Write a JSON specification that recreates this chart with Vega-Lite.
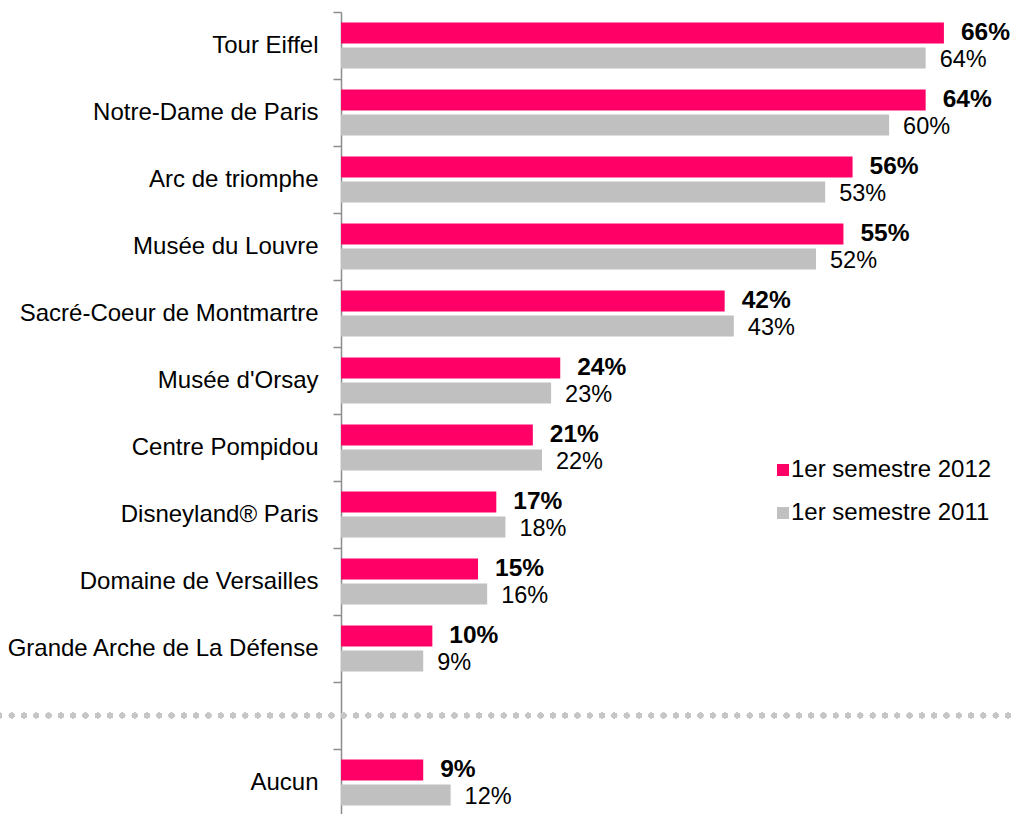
{
  "$schema": "https://vega.github.io/schema/vega-lite/v6.json",
  "autosize": "none",
  "padding": {"left": 341, "top": 12, "right": 0, "bottom": 0},
  "width": 676,
  "height": 804,
  "config": {
    "view": {"stroke": null},
    "font": "Liberation Sans"
  },
  "data": {
    "values": [
      {"cat": "Tour Eiffel", "serie": "1er semestre 2012", "v": 0.66},
      {"cat": "Tour Eiffel", "serie": "1er semestre 2011", "v": 0.64},
      {"cat": "Notre-Dame de Paris", "serie": "1er semestre 2012", "v": 0.64},
      {"cat": "Notre-Dame de Paris", "serie": "1er semestre 2011", "v": 0.60},
      {"cat": "Arc de triomphe", "serie": "1er semestre 2012", "v": 0.56},
      {"cat": "Arc de triomphe", "serie": "1er semestre 2011", "v": 0.53},
      {"cat": "Musée du Louvre", "serie": "1er semestre 2012", "v": 0.55},
      {"cat": "Musée du Louvre", "serie": "1er semestre 2011", "v": 0.52},
      {"cat": "Sacré-Coeur de Montmartre", "serie": "1er semestre 2012", "v": 0.42},
      {"cat": "Sacré-Coeur de Montmartre", "serie": "1er semestre 2011", "v": 0.43},
      {"cat": "Musée d'Orsay", "serie": "1er semestre 2012", "v": 0.24},
      {"cat": "Musée d'Orsay", "serie": "1er semestre 2011", "v": 0.23},
      {"cat": "Centre Pompidou", "serie": "1er semestre 2012", "v": 0.21},
      {"cat": "Centre Pompidou", "serie": "1er semestre 2011", "v": 0.22},
      {"cat": "Disneyland® Paris", "serie": "1er semestre 2012", "v": 0.17},
      {"cat": "Disneyland® Paris", "serie": "1er semestre 2011", "v": 0.18},
      {"cat": "Domaine de Versailles", "serie": "1er semestre 2012", "v": 0.15},
      {"cat": "Domaine de Versailles", "serie": "1er semestre 2011", "v": 0.16},
      {"cat": "Grande Arche de La Défense", "serie": "1er semestre 2012", "v": 0.10},
      {"cat": "Grande Arche de La Défense", "serie": "1er semestre 2011", "v": 0.09},
      {"cat": "Aucun", "serie": "1er semestre 2012", "v": 0.09},
      {"cat": "Aucun", "serie": "1er semestre 2011", "v": 0.12}
    ]
  },
  "encoding": {
    "y": {
      "field": "cat",
      "type": "nominal",
      "title": null,
      "scale": {
        "domain": ["Tour Eiffel", "Notre-Dame de Paris", "Arc de triomphe", "Musée du Louvre", "Sacré-Coeur de Montmartre", "Musée d'Orsay", "Centre Pompidou", "Disneyland® Paris", "Domaine de Versailles", "Grande Arche de La Défense", "sep", "Aucun"],
        "paddingInner": 0,
        "paddingOuter": 0
      },
      "axis": {
        "tickBand": "extent",
        "tickSize": 8,
        "tickColor": "#8c8c8c",
        "tickWidth": 1.5,
        "domainColor": "#8c8c8c",
        "domainWidth": 1.5,
        "labelPadding": 15,
        "labelFontSize": 24,
        "labelLimit": 0,
        "labelColor": "#000000",
        "labelFont": "Liberation Sans",
        "labelExpr": "datum.value == 'sep' ? '' : datum.value"
      }
    },
    "yOffset": {
      "field": "serie",
      "type": "nominal",
      "scale": {
        "domain": ["1er semestre 2012", "1er semestre 2011"],
        "paddingInner": 0.16,
        "paddingOuter": 0.42
      }
    }
  },
  "layer": [
    {
      "mark": {"type": "bar"},
      "encoding": {
        "x": {
          "field": "v",
          "type": "quantitative",
          "scale": {"domain": [0, 0.74], "nice": false},
          "axis": null
        },
        "color": {
          "field": "serie",
          "type": "nominal",
          "scale": {
            "domain": ["1er semestre 2012", "1er semestre 2011"],
            "range": ["#FF0066", "#C0C0C0"]
          },
          "legend": {
            "title": null,
            "orient": "none",
            "legendX": 430,
            "legendY": 446,
            "symbolType": "square",
            "symbolSize": 144,
            "symbolStrokeWidth": 0,
            "labelFontSize": 24,
            "labelLimit": 0,
            "labelFont": "Liberation Sans",
            "labelColor": "#000000",
            "labelOffset": -4,
            "rowPadding": 19
          }
        }
      }
    },
    {
      "transform": [{"filter": "datum.serie == '1er semestre 2012'"}],
      "mark": {"type": "text", "align": "left", "baseline": "middle", "dx": 17, "dy": 0, "fontSize": 24.5, "fontWeight": "bold", "color": "#000000"},
      "encoding": {
        "x": {"field": "v", "type": "quantitative"},
        "text": {"field": "v", "type": "quantitative", "format": ".0%"}
      }
    },
    {
      "transform": [{"filter": "datum.serie == '1er semestre 2011'"}],
      "mark": {"type": "text", "align": "left", "baseline": "middle", "dx": 14, "dy": 2, "fontSize": 23.5, "color": "#000000"},
      "encoding": {
        "x": {"field": "v", "type": "quantitative"},
        "text": {"field": "v", "type": "quantitative", "format": ".0%"}
      }
    },
    {
      "mark": {"type": "rule", "color": "#c6c6c6", "strokeWidth": 5.5, "strokeCap": "round", "strokeDash": [0, 12.3]},
      "encoding": {
        "y": {"datum": "sep", "type": "nominal"},
        "yOffset": null,
        "x": {"datum": -0.374},
        "x2": {"datum": 0.74}
      }
    }
  ]
}
